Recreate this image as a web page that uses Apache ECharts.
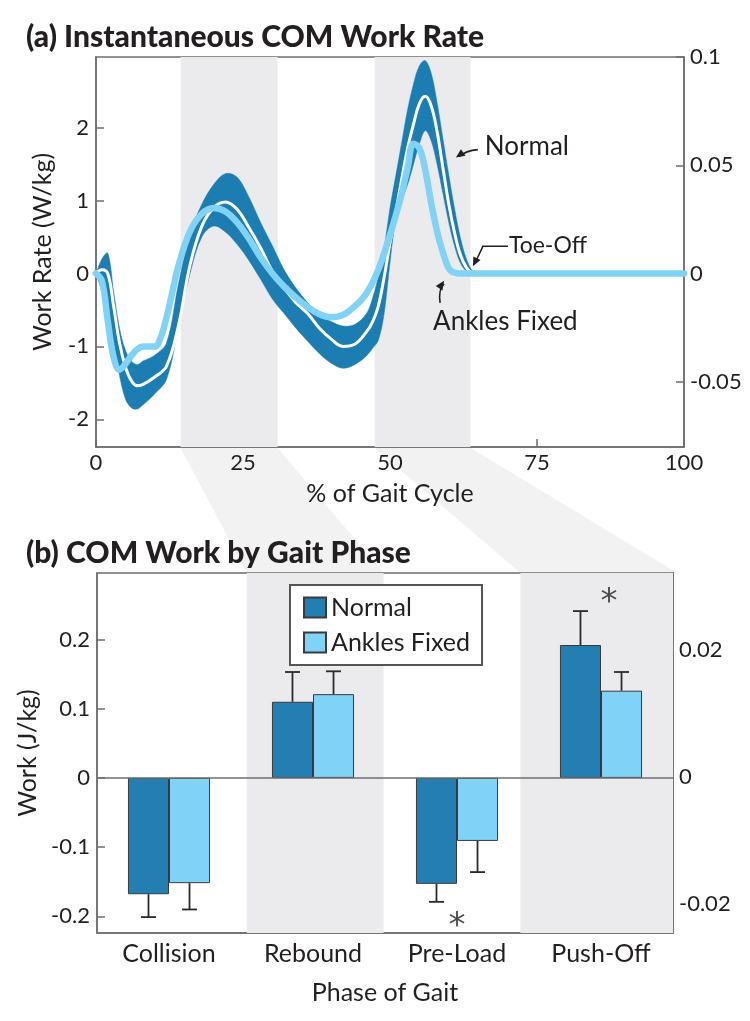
<!DOCTYPE html>
<html lang="en">
<head>
<meta charset="UTF-8">
<title>COM Work Rate</title>
<script src="https://cdn.jsdelivr.net/npm/echarts@6.0.0/dist/echarts.min.js"></script>
<style>
    html, body { margin: 0; padding: 0; background: #fff; }
    #main { width: 750px; height: 1021px; }
</style>
</head>
<body>
<div id="main"></div>
<script>
// ---- (a) instantaneous work rate, x = % of gait cycle ----
var bandX = [0, 1, 2, 3, 4, 5, 6, 7, 8, 10, 12, 14, 16, 18, 20, 22, 24, 26, 28, 30, 32, 34, 36, 38, 40, 42, 44, 46,
    47, 48, 49, 50, 51, 52, 53, 54, 55, 56, 57, 58, 59, 60, 61, 62, 63, 64, 65];
var normalUpper = [0, 0.2, 0.28, -0.25, -0.75, -1.05, -1.2, -1.25, -1.2, -1.12, -0.95, -0.15, 0.55, 0.95, 1.22, 1.37, 1.32, 1.05, 0.7, 0.38, 0.05, -0.2, -0.4, -0.57, -0.66, -0.72, -0.7, -0.55,
    -0.35, -0.05, 0.35, 0.9, 1.35, 1.8, 2.25, 2.6, 2.85, 2.92, 2.75, 2.35, 1.85, 1.35, 0.88, 0.48, 0.2, 0.04, 0];
var normalLower = [0, -0.25, -0.55, -0.95, -1.4, -1.72, -1.84, -1.86, -1.8, -1.65, -1.45, -0.75, 0.0, 0.5, 0.65, 0.57, 0.4, 0.18, -0.08, -0.35, -0.55, -0.75, -0.93, -1.1, -1.23, -1.3, -1.25, -1.13,
    -1.03, -0.92, -0.55, 0.15, 0.75, 1.0, 1.22, 1.5, 1.78, 1.96, 1.82, 1.5, 1.1, 0.7, 0.37, 0.14, 0.03, 0, 0];
var normalMean = [0, 0.05, 0.0, -0.45, -0.95, -1.28, -1.47, -1.54, -1.52, -1.42, -1.27, -0.72, 0.12, 0.65, 0.9, 0.98, 0.88, 0.63, 0.35, 0.03, -0.2, -0.4, -0.55, -0.75, -0.9, -1.0, -0.97, -0.8,
    -0.67, -0.45, -0.05, 0.42, 0.85, 1.3, 1.72, 2.05, 2.33, 2.43, 2.3, 1.95, 1.45, 0.95, 0.55, 0.25, 0.08, 0.01, 0];
var fixedX = [0, 1, 2, 3, 4, 5, 6, 7, 8, 9, 10, 11, 12, 13, 14, 16, 18, 20, 22, 24, 26, 28, 30, 32, 34, 36, 38, 40, 42, 44, 46, 48,
    50, 51, 52, 53, 54, 55, 56, 57, 58, 59, 60, 61, 62, 70, 80, 90, 100];
var fixedRate = [0, -0.1, -0.65, -1.15, -1.32, -1.24, -1.13, -1.04, -1.0, -1.0, -1.0, -0.88, -0.6, -0.25, 0.1, 0.58, 0.82, 0.9, 0.85, 0.7, 0.48, 0.22, 0.0, -0.18, -0.33, -0.46, -0.56, -0.6, -0.57, -0.45, -0.27, 0.05,
    0.53, 0.8, 1.1, 1.45, 1.78, 1.72, 1.42, 0.97, 0.58, 0.29, 0.07, 0.01, 0, 0, 0, 0, 0];
var gaitBands = [[14.4, 30.9], [47.4, 63.7]];

// ---- (b) work by gait phase ----
var phases = ['Collision', 'Rebound', 'Pre-Load', 'Push-Off'];
var workNormal = [-0.168, 0.110, -0.153, 0.192];
var workFixed = [-0.152, 0.121, -0.091, 0.126];
var sdNormal = [0.033, 0.043, 0.026, 0.049];
var sdFixed = [0.038, 0.033, 0.045, 0.027];
var phaseBands = [[1.04, 1.99], [2.94, 4.03]];   // on a 0..4 phase scale
var stars = [[2, -0.216], [3, 0.253]];

var FONT = 'Lato';
var INK = '#231f20';
var AXIS = '#6d6e71';
var DARK = '#1b7db1';
var LIGHT = '#80d3f7';
var BAND = '#ebebed';

function zip(xs, ys) {
    return xs.map(function (x, i) { return [x, ys[i]]; });
}

// dark spread of the normal condition, one closed outline
function bandRender(params, api) {
    if (params.dataIndex !== 0) return null;
    var pts = [];
    for (var i = 0; i < bandX.length; i++) pts.push(api.coord([bandX[i], normalUpper[i]]));
    for (var j = bandX.length - 1; j >= 0; j--) pts.push(api.coord([bandX[j], normalLower[j]]));
    return {
        type: 'polygon',
        shape: { points: pts, smooth: 0.35 },
        style: { fill: DARK, stroke: DARK, lineWidth: 0.5 }
    };
}

function errData(means, sds) {
    return means.map(function (m, i) { return [i, m, m < 0 ? m - sds[i] : m + sds[i]]; });
}
function errRender(side) {
    return function (params, api) {
        var bw = api.size([1, 0])[0] * 0.285;
        var p0 = api.coord([api.value(0), api.value(1)]);
        var p1 = api.coord([api.value(0), api.value(2)]);
        var cx = p0[0] + side * bw / 2;
        var st = { stroke: '#2b2b2b', lineWidth: 1.8 };
        return {
            type: 'group', children: [
                { type: 'line', shape: { x1: cx, y1: p0[1], x2: cx, y2: p1[1] }, style: st },
                { type: 'line', shape: { x1: cx - 7.5, y1: p1[1], x2: cx + 7.5, y2: p1[1] }, style: st }
            ]
        };
    };
}

function axisCommon(extra) {
    var a = {
        axisLine: { show: true, onZero: false, lineStyle: { color: AXIS, width: 1.5 } },
        axisTick: { show: true, inside: true, length: 8, lineStyle: { color: AXIS, width: 1.5 } },
        axisLabel: { fontFamily: FONT, fontSize: 22, color: INK, margin: 7 },
        splitLine: { show: false },
        nameTextStyle: { fontFamily: FONT, fontSize: 25, color: INK }
    };
    for (var k in extra) {
        if (typeof extra[k] === 'object' && a[k] && !Array.isArray(extra[k])) {
            for (var j in extra[k]) a[k][j] = extra[k][j];
        } else a[k] = extra[k];
    }
    return a;
}

var myChart = echarts.init(document.getElementById('main'), null, { renderer: 'canvas' });

var option = {
    animation: false,
    backgroundColor: '#fff',
    title: [
        { text: '(a) Instantaneous COM Work Rate', left: 21, top: 17, textStyle: { fontFamily: FONT, fontWeight: 900, fontSize: 30, color: INK } },
        { text: '(b) COM Work by Gait Phase', left: 21, top: 533, textStyle: { fontFamily: FONT, fontWeight: 900, fontSize: 30, color: INK } }
    ],
    legend: {
        data: ['Normal', 'Ankles Fixed'],
        orient: 'vertical',
        left: 290, top: 585,
        padding: [10, 12, 10, 13],
        itemGap: 10, itemWidth: 22, itemHeight: 20,
        icon: 'rect',
        borderColor: '#555', borderWidth: 2,
        backgroundColor: '#fff',
        textStyle: { fontFamily: FONT, fontSize: 25, color: INK }
    },
    grid: [
        { left: 96, top: 57, width: 588, height: 390, show: true, borderColor: AXIS, borderWidth: 1.5 },
        { left: 97, top: 573, width: 576, height: 360, show: true, borderColor: AXIS, borderWidth: 1.5 }
    ],
    xAxis: [
        axisCommon({ type: 'value', gridIndex: 0, min: 0, max: 100, interval: 25,
            axisLabel: { margin: 5 },
            name: '% of Gait Cycle', nameLocation: 'middle', nameGap: 34 }),
        axisCommon({ type: 'category', gridIndex: 1, data: phases, axisTick: { show: false },
            axisLabel: { fontSize: 25, margin: 8 },
            name: 'Phase of Gait', nameLocation: 'middle', nameGap: 47 }),
        { type: 'value', gridIndex: 1, min: 0, max: 4, show: false }
    ],
    yAxis: [
        axisCommon({ type: 'value', gridIndex: 0, min: -2.38, max: 2.97,
            axisTick: { customValues: [-2, -1, 0, 1, 2] }, axisLabel: { customValues: [-2, -1, 0, 1, 2] },
            name: 'Work Rate (W/kg)', nameLocation: 'middle', nameRotate: 90, nameGap: 41 }),
        axisCommon({ type: 'value', gridIndex: 0, position: 'right', min: -0.08, max: 0.1,
            axisTick: { customValues: [-0.05, 0, 0.05, 0.1] }, axisLabel: { customValues: [-0.05, 0, 0.05, 0.1], margin: 6 } }),
        axisCommon({ type: 'value', gridIndex: 1, min: -0.224, max: 0.296,
            axisTick: { customValues: [-0.2, -0.1, 0, 0.1, 0.2] }, axisLabel: { customValues: [-0.2, -0.1, 0, 0.1, 0.2] },
            name: 'Work (J/kg)', nameLocation: 'middle', nameRotate: 90, nameGap: 54 }),
        axisCommon({ type: 'value', gridIndex: 1, position: 'right', min: -0.0246, max: 0.0321,
            axisTick: { customValues: [-0.02, -0.01, 0, 0.01, 0.02, 0.03] }, axisLabel: { customValues: [-0.02, 0, 0.02], margin: 6 } })
    ],
    series: [
        {
            name: 'bands', type: 'line', xAxisIndex: 0, yAxisIndex: 0,
            data: [[0, 0]], symbol: 'none', lineStyle: { opacity: 0 }, silent: true, z: 1,
            markArea: {
                silent: true, itemStyle: { color: BAND },
                data: gaitBands.map(function (b) { return [{ xAxis: b[0] }, { xAxis: b[1] }]; })
            }
        },
        {
            name: 'spread', type: 'custom', xAxisIndex: 0, yAxisIndex: 0,
            data: [[0, 0]], renderItem: bandRender, silent: true, z: 3
        },
        {
            name: 'mean', type: 'line', xAxisIndex: 0, yAxisIndex: 0,
            data: zip(bandX, normalMean), smooth: 0.4, symbol: 'none',
            lineStyle: { color: '#fff', width: 3 }, silent: true, z: 4
        },
        {
            name: 'fixedLine', type: 'line', xAxisIndex: 0, yAxisIndex: 0,
            data: zip(fixedX, fixedRate), smooth: 0.4, symbol: 'none',
            lineStyle: { color: LIGHT, width: 6.5, cap: 'round', join: 'round' }, silent: true, z: 5
        },
        {
            name: 'phaseBg', type: 'line', xAxisIndex: 2, yAxisIndex: 2,
            data: [[0, 0]], symbol: 'none', lineStyle: { opacity: 0 }, silent: true, z: 1,
            markArea: {
                silent: true, itemStyle: { color: BAND },
                data: phaseBands.map(function (b) { return [{ xAxis: b[0] }, { xAxis: Math.min(b[1], 4) }]; })
            }
        },
        {
            name: 'Normal', type: 'bar', xAxisIndex: 1, yAxisIndex: 2,
            data: workNormal, barWidth: '28.5%', barGap: '0%',
            itemStyle: { color: '#237fb2', borderColor: '#3a3a3a', borderWidth: 1 }, z: 3,
            markLine: {
                silent: true, symbol: 'none', label: { show: false },
                lineStyle: { color: AXIS, width: 1.5, type: 'solid' },
                data: [{ yAxis: 0 }]
            }
        },
        {
            name: 'Ankles Fixed', type: 'bar', xAxisIndex: 1, yAxisIndex: 2,
            data: workFixed, barWidth: '28.5%', barGap: '0%',
            itemStyle: { color: LIGHT, borderColor: '#3a3a3a', borderWidth: 1 }, z: 3
        },
        {
            type: 'custom', xAxisIndex: 1, yAxisIndex: 2, z: 4, silent: true,
            data: errData(workNormal, sdNormal), renderItem: errRender(-1)
        },
        {
            type: 'custom', xAxisIndex: 1, yAxisIndex: 2, z: 4, silent: true,
            data: errData(workFixed, sdFixed), renderItem: errRender(1)
        },
        {
            type: 'scatter', xAxisIndex: 1, yAxisIndex: 2, z: 5, silent: true,
            symbolSize: 2, itemStyle: { color: 'rgba(0,0,0,0)' },
            data: stars.map(function (s, i) {
                return { value: s, label: { offset: [i === 1 ? 8 : 0, 0] } };
            }),
            label: { show: true, position: 'inside', formatter: '*', fontFamily: 'DejaVu Sans', fontSize: 34, color: INK }
        }
    ]
};
myChart.setOption(option);

// connectors and call-outs, placed through the axes
function pA(x, y) { return myChart.convertToPixel({ xAxisIndex: 0, yAxisIndex: 0 }, [x, y]); }
function pB(x, y) { return myChart.convertToPixel({ xAxisIndex: 2, yAxisIndex: 2 }, [x, y]); }

function arrowHead(tip, from) {
    var dx = tip[0] - from[0], dy = tip[1] - from[1];
    var len = Math.sqrt(dx * dx + dy * dy);
    var ux = dx / len, uy = dy / len;
    var bx = tip[0] - ux * 9, by = tip[1] - uy * 9;
    return {
        type: 'polygon', silent: true, z: 20,
        shape: { points: [tip.slice(), [bx - uy * 4, by + ux * 4], [bx + uy * 4, by - ux * 4]] },
        style: { fill: INK }
    };
}

var g = [];
var yTop0 = pA(0, -2.38)[1];
var yBot1 = pB(0, 0.296)[1];
for (var i = 0; i < gaitBands.length; i++) {
    var a0 = pA(gaitBands[i][0], 0)[0], a1 = pA(gaitBands[i][1], 0)[0];
    var b0 = pB(phaseBands[i][0], 0)[0], b1 = pB(phaseBands[i][1], 0)[0];
    g.push({
        type: 'polygon', silent: true, z: -10,
        shape: { points: [[a0, yTop0 + 1], [a1, yTop0 + 1], [b1, yBot1], [b0, yBot1]] },
        style: { fill: '#f2f2f3' }
    });
}

function label(x, y, text, size) {
    return { type: 'text', silent: true, z: 20, x: x, y: y,
        style: { text: text, fontFamily: FONT, fontSize: size, fill: INK, verticalAlign: 'middle' } };
}
var lineSt = { stroke: INK, lineWidth: 1.6, fill: null };

// Normal
var tN = pA(61.2, 1.59);
var cN = [tN[0] + 10, tN[1] - 7];
g.push({ type: 'bezierCurve', silent: true, z: 20,
    shape: { x1: tN[0] + 22, y1: tN[1] - 8, cpx1: cN[0], cpy1: cN[1], x2: tN[0] + 3, y2: tN[1] - 1 }, style: lineSt });
g.push(arrowHead(tN, cN));
g.push(label(tN[0] + 29, tN[1] - 11, 'Normal', 26));
// Toe-Off
var tT = pA(64.1, 0.1);
var eT = [tT[0] + 10, tT[1] - 20];
g.push({ type: 'polyline', silent: true, z: 20,
    shape: { points: [[tT[0] + 3, tT[1] - 5], eT, [tT[0] + 35, eT[1]]] }, style: lineSt });
g.push(arrowHead(tT, eT));
g.push(label(tT[0] + 36, eT[1] - 1, 'Toe-Off', 23));
// Ankles Fixed
var tF = pA(59.2, -0.1);
var cF = [tF[0] - 6, tF[1] + 9];
g.push({ type: 'bezierCurve', silent: true, z: 20,
    shape: { x1: tF[0] - 4, y1: tF[1] + 22, cpx1: cF[0], cpy1: cF[1], x2: tF[0], y2: tF[1] + 3 }, style: lineSt });
g.push(arrowHead(tF, cF));
g.push(label(tF[0] - 11, tF[1] + 41, 'Ankles Fixed', 26));

myChart.setOption({ graphic: g });
</script>
</body>
</html>
